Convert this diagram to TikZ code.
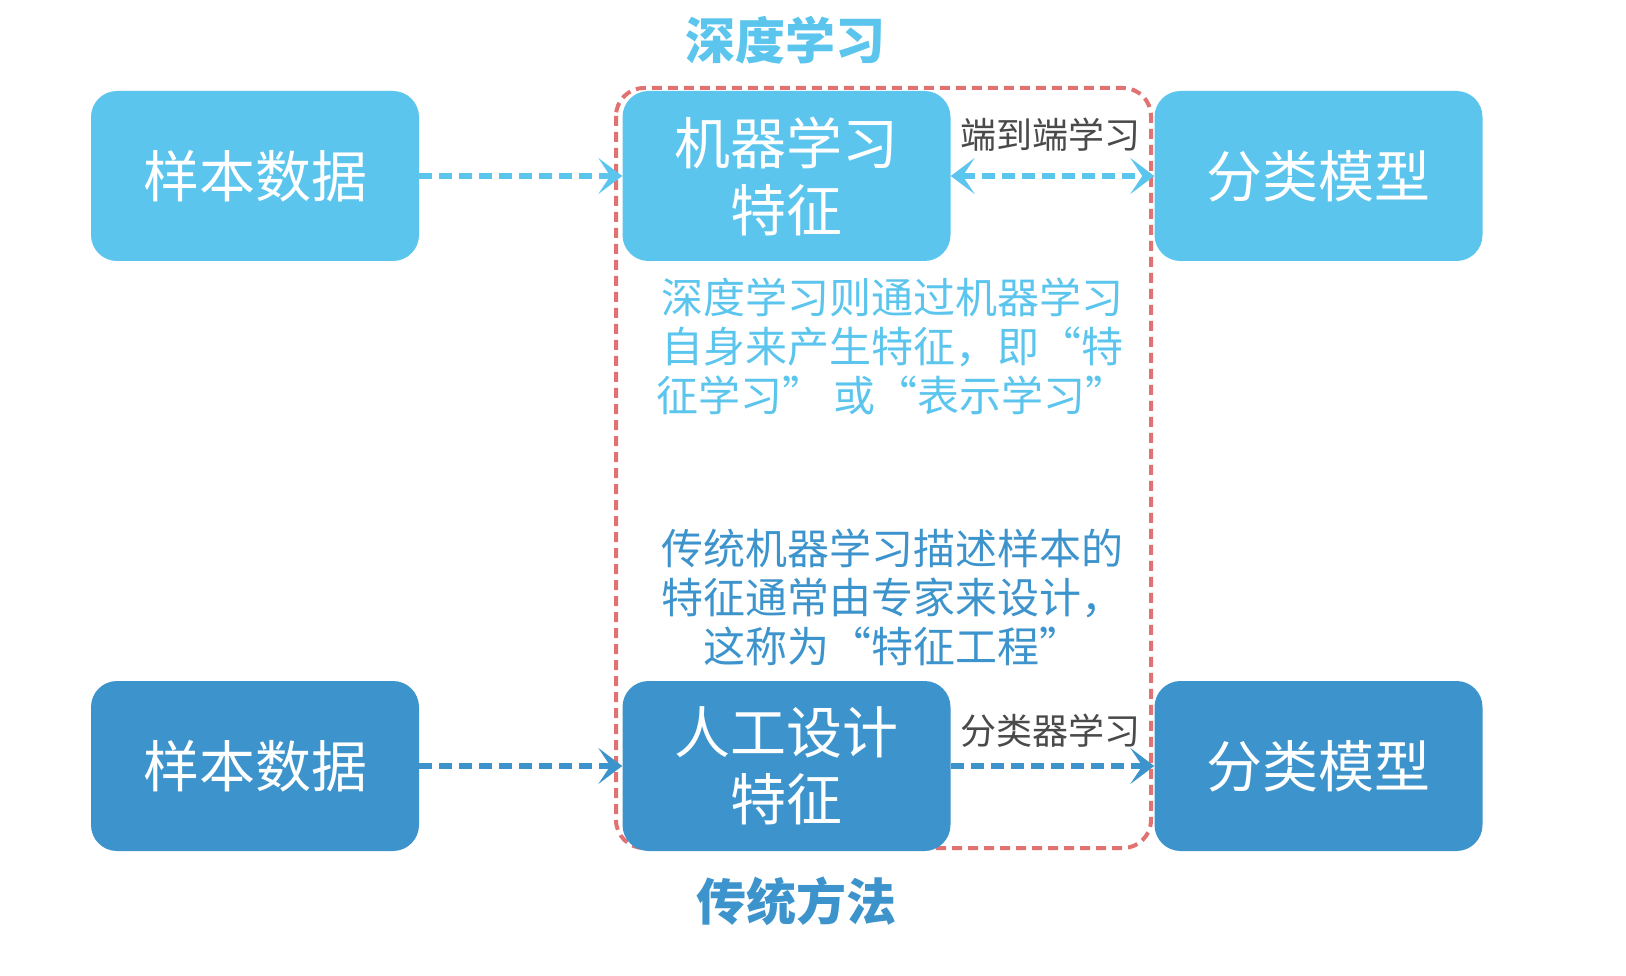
\documentclass[tikz,border=0pt]{standalone}
\usepackage{fontspec}
\setmainfont{Noto Sans CJK SC}
\usetikzlibrary{arrows.meta}
\definecolor{lblue}{HTML}{5BC5EE}
\definecolor{dblue}{HTML}{3D94CC}
\definecolor{rdash}{HTML}{E07272}
\definecolor{lbl}{HTML}{4A4A4A}
\tikzset{
  box/.style={rounded corners=26pt, minimum width=328pt, minimum height=170pt, inner sep=0pt,
    text=white, font=\fontsize{56}{67}\selectfont, align=center},
  lbox/.style={box, fill=lblue},
  dbox/.style={box, fill=dblue},
  tipx/.tip={Stealth[length=24pt,width=36pt,inset=12pt]},
  conn/.style={line width=6pt, dash pattern=on 13pt off 7pt, -tipx},
  conn2/.style={conn, tipx-tipx},
  elabel/.style={text=lbl, font=\fontsize{36}{40}\selectfont, inner sep=0pt},
  para/.style={font=\fontsize{42}{49}\selectfont, align=center, inner sep=0pt},
  title/.style={font=\fontsize{50}{56}\bfseries\selectfont, inner sep=0pt}
}
\begin{document}
\begin{tikzpicture}[x=1pt,y=-1pt]
\useasboundingbox (0,0) rectangle (1626,976);
% dashed frame
\draw[rdash, line width=4pt, dash pattern=on 10pt off 6pt, rounded corners=28pt] (616,88) rectangle (1151,848);
% boxes
\node[lbox] (s1) at (255,176) {样本数据};
\node[lbox] (m1) at (786.5,176) {机器学习\\特征};
\node[lbox] (c1) at (1318.5,176) {分类模型};
\node[dbox] (s2) at (255,766) {样本数据};
\node[dbox] (m2) at (786.5,766) {人工设计\\特征};
\node[dbox] (c2) at (1318.5,766) {分类模型};
% connectors
\draw[conn, lblue] (s1) -- (m1);
\draw[conn2, lblue] (m1) -- (c1);
\draw[conn, dblue] (s2) -- (m2);
\draw[conn, dblue] (m2) -- (c2);
% labels
\node[elabel] (l1) at (1050,135) {端到端学习};
\node[elabel] (l2) at (1050,731) {分类器学习};
\node[title, text=lblue] (t1) at (785,40) {深度学习};
\node[title, text=dblue] (t2) at (796,901) {传统方法};
\node[para, text=lblue] (p1) at (892,346) {深度学习则通过机器学习\\自身来产生特征，即“特\\征学习” 或“表示学习”};
\node[para, text=dblue] (p2) at (892,597) {传统机器学习描述样本的\\特征通常由专家来设计，\\这称为“特征工程”};
\end{tikzpicture}
\end{document}
